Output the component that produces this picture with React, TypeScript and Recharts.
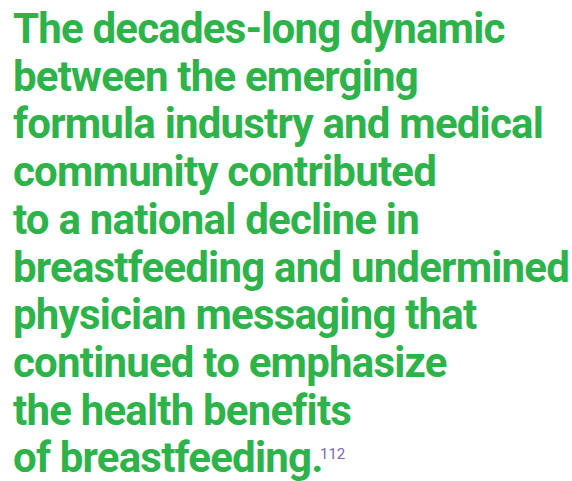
import { Surface } from "recharts";

const lines = [
  "The decades-long dynamic",
  "between the emerging",
  "formula industry and medical",
  "community contributed",
  "to a national decline in",
  "breastfeeding and undermined",
  "physician messaging that",
  "continued to emphasize",
  "the health benefits",
  "of breastfeeding.",
];

const footnote = "112";

const GREEN = "#2db34a";
const PURPLE = "#7d69b3";

export default function App() {
  return (
    <div style={{ position: "absolute", left: 0, top: 0, width: 572, height: 481, background: "#fff" }}>
      <Surface width={572} height={481}>
        {lines.map((line, i) => (
          <text
            key={line}
            x={13}
            y={43 + i * 47.7}
            fill={GREEN}
            fontFamily="Roboto, sans-serif"
            fontWeight={700}
            fontSize={42}
            letterSpacing={-0.8}
          >
            {line}
          </text>
        ))}
        <text x={320} y={459} fill={PURPLE} fontFamily="Roboto, sans-serif" fontSize={15}>
          {footnote}
        </text>
      </Surface>
    </div>
  );
}
